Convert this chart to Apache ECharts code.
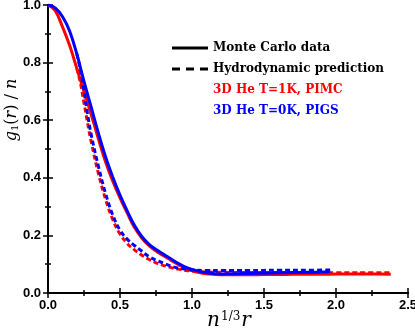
<!DOCTYPE html>
<html>
<head>
<meta charset="utf-8">
<script src="https://cdn.jsdelivr.net/npm/echarts@6/dist/echarts.min.js"></script>
<style>
  html, body { margin: 0; padding: 0; background: #fff; }
  #chart { width: 415px; height: 330px; }
</style>
</head>
<body>
<div id="chart"></div>
<script>
// x = n^(1/3) r, y = g1(r) / n
const pimcMC = [[0, 1.0], [0.05, 0.98], [0.1, 0.925], [0.15, 0.86], [0.2, 0.78], [0.25, 0.7], [0.3, 0.62],
  [0.35, 0.535], [0.4, 0.455], [0.45, 0.388], [0.5, 0.33], [0.55, 0.278], [0.6, 0.228], [0.65, 0.192],
  [0.7, 0.165], [0.75, 0.146], [0.8, 0.13], [0.85, 0.115], [0.9, 0.1], [0.95, 0.088], [1.0, 0.078],
  [1.05, 0.071], [1.1, 0.067], [1.2, 0.063], [1.3, 0.063], [1.4, 0.063], [1.5, 0.064], [1.6, 0.064],
  [1.7, 0.065], [1.8, 0.065], [1.9, 0.065], [2.0, 0.066], [2.1, 0.066], [2.2, 0.066], [2.3, 0.066], [2.38, 0.065]]
const pigsMC = [[0, 1.0], [0.05, 0.99], [0.1, 0.96], [0.15, 0.91], [0.2, 0.83], [0.25, 0.735], [0.3, 0.645],
  [0.35, 0.555], [0.4, 0.472], [0.45, 0.402], [0.5, 0.34], [0.55, 0.285], [0.6, 0.235], [0.65, 0.197],
  [0.7, 0.17], [0.75, 0.151], [0.8, 0.135], [0.85, 0.12], [0.9, 0.104], [0.95, 0.091], [1.0, 0.082],
  [1.05, 0.075], [1.1, 0.07], [1.2, 0.066], [1.3, 0.067], [1.4, 0.068], [1.5, 0.069], [1.6, 0.07],
  [1.7, 0.071], [1.8, 0.072], [1.9, 0.073], [1.96, 0.074]]
const pimcHydro = [[0.2, 0.78], [0.225, 0.73], [0.25, 0.66], [0.275, 0.59], [0.3, 0.525], [0.35, 0.415],
  [0.4, 0.325], [0.45, 0.255], [0.5, 0.205], [0.55, 0.172], [0.6, 0.15], [0.65, 0.132], [0.7, 0.117],
  [0.75, 0.105], [0.8, 0.096], [0.85, 0.089], [0.9, 0.083], [0.95, 0.079], [1.0, 0.076], [1.1, 0.073],
  [1.2, 0.072], [1.4, 0.071], [1.6, 0.071], [1.8, 0.07], [2.0, 0.07], [2.2, 0.07], [2.38, 0.07]]
const pigsHydro = [[0.2, 0.83], [0.225, 0.775], [0.25, 0.7], [0.275, 0.62], [0.3, 0.55], [0.35, 0.44],
  [0.4, 0.345], [0.45, 0.27], [0.5, 0.218], [0.55, 0.187], [0.6, 0.165], [0.65, 0.146], [0.7, 0.127],
  [0.75, 0.114], [0.8, 0.104], [0.85, 0.094], [0.9, 0.087], [0.95, 0.083], [1.0, 0.08], [1.1, 0.078],
  [1.2, 0.078], [1.4, 0.078], [1.6, 0.079], [1.8, 0.079], [1.96, 0.08]]

const legendNames = ['Monte Carlo data', 'Hydrodynamic prediction', '3D He T=1K, PIMC', '3D He T=0K, PIGS']

const myChart = echarts.init(document.getElementById('chart'))

const tickFont = { fontFamily: 'Liberation Sans', fontWeight: 'bold', fontSize: 13, color: '#000' }
const axisBase = {
  axisLine: { lineStyle: { color: '#000', width: 2 } },
  axisTick: { inside: true, length: 5, lineStyle: { color: '#000', width: 1.5 } },
  minorTick: { show: true, splitNumber: 2, length: 3, lineStyle: { color: '#000', width: 1.5 } },
  splitLine: { show: false }
}

function curve(name, data, color, dashed) {
  return {
    name: name,
    type: 'line',
    data: data,
    smooth: 0.4,
    showSymbol: false,
    symbol: 'none',
    color: color,
    lineStyle: { color: color, width: 3, type: dashed ? [5, 3] : 'solid' },
    z: color === '#0000ff' ? 3 : 2
  }
}

const option = {
  animation: false,
  grid: { left: 48, right: 7, top: 5, bottom: 37, containLabel: false, outerBoundsMode: 'none' },
  legend: {
    left: 167,
    top: 37,
    orient: 'vertical',
    itemWidth: 36,
    itemHeight: 3,
    itemGap: 9,
    symbolKeepAspect: false,
    selectedMode: false,
    textStyle: { fontFamily: 'DejaVu Serif', fontWeight: 'bold', fontSize: 12, color: '#000' },
    data: [
      { name: legendNames[0], icon: 'path://M0,0h36v3h-36z' },
      { name: legendNames[1], icon: 'path://M0,0h8v3h-8z M14,0h8v3h-8z M28,0h8v3h-8z' },
      { name: legendNames[2], icon: 'none', textStyle: { color: '#ff0000' } },
      { name: legendNames[3], icon: 'none', textStyle: { color: '#0000ff' } }
    ]
  },
  xAxis: [
    Object.assign({}, axisBase, {
      type: 'value', min: 0, max: 2.5, interval: 0.5,
      axisLabel: Object.assign({}, tickFont, { margin: 6, formatter: (v) => v.toFixed(1) }),
      name: '{i|n}{sup|1/3}{i|r}',
      nameLocation: 'middle',
      nameGap: 18,
      nameMoveOverlap: false,
      nameTextStyle: {
        padding: [0, 0, 0, 2],
        rich: {
          i: { fontFamily: 'DejaVu Serif', fontStyle: 'italic', fontSize: 20, color: '#000' },
          sup: { fontFamily: 'DejaVu Serif', fontSize: 12, color: '#000', verticalAlign: 'top', padding: [0, 1, 8, 1] }
        }
      }
    }),
    Object.assign({}, axisBase, {
      type: 'value', min: 0, max: 2.5, interval: 0.5, position: 'top',
      axisLabel: { show: false }
    })
  ],
  yAxis: [
    Object.assign({}, axisBase, {
      type: 'value', min: 0, max: 1, interval: 0.2,
      axisLabel: Object.assign({}, tickFont, { margin: 7, formatter: (v) => v.toFixed(1) }),
      name: '{i|g}{sub|1}{n|(}{i|r}{n|) / }{i|n}',
      nameLocation: 'middle',
      nameGap: 28,
      nameRotate: 90,
      nameMoveOverlap: false,
      nameTextStyle: {
        padding: [0, 0, 0, 78],
        rich: {
          i: { fontFamily: 'DejaVu Serif', fontStyle: 'italic', fontSize: 16, color: '#000' },
          n: { fontFamily: 'DejaVu Serif', fontSize: 16, color: '#000' },
          sub: { fontFamily: 'DejaVu Serif', fontSize: 10, color: '#000', verticalAlign: 'bottom', padding: [7, 0, 0, 0] }
        }
      }
    }),
    Object.assign({}, axisBase, {
      type: 'value', min: 0, max: 1, interval: 0.2, position: 'right',
      axisLabel: { show: false }
    })
  ],
  series: [
    { name: legendNames[0], type: 'line', data: [], symbol: 'none', color: '#000', lineStyle: { color: '#000', width: 2.5 } },
    { name: legendNames[1], type: 'line', data: [], symbol: 'none', color: '#000', lineStyle: { color: '#000', width: 2.5, type: 'dashed' } },
    curve(legendNames[2], pimcMC, '#ff0000', false),
    curve(legendNames[2], pimcHydro, '#ff0000', true),
    curve(legendNames[3], pigsMC, '#0000ff', false),
    curve(legendNames[3], pigsHydro, '#0000ff', true)
  ]
}
myChart.setOption(option)
</script>
</body>
</html>
